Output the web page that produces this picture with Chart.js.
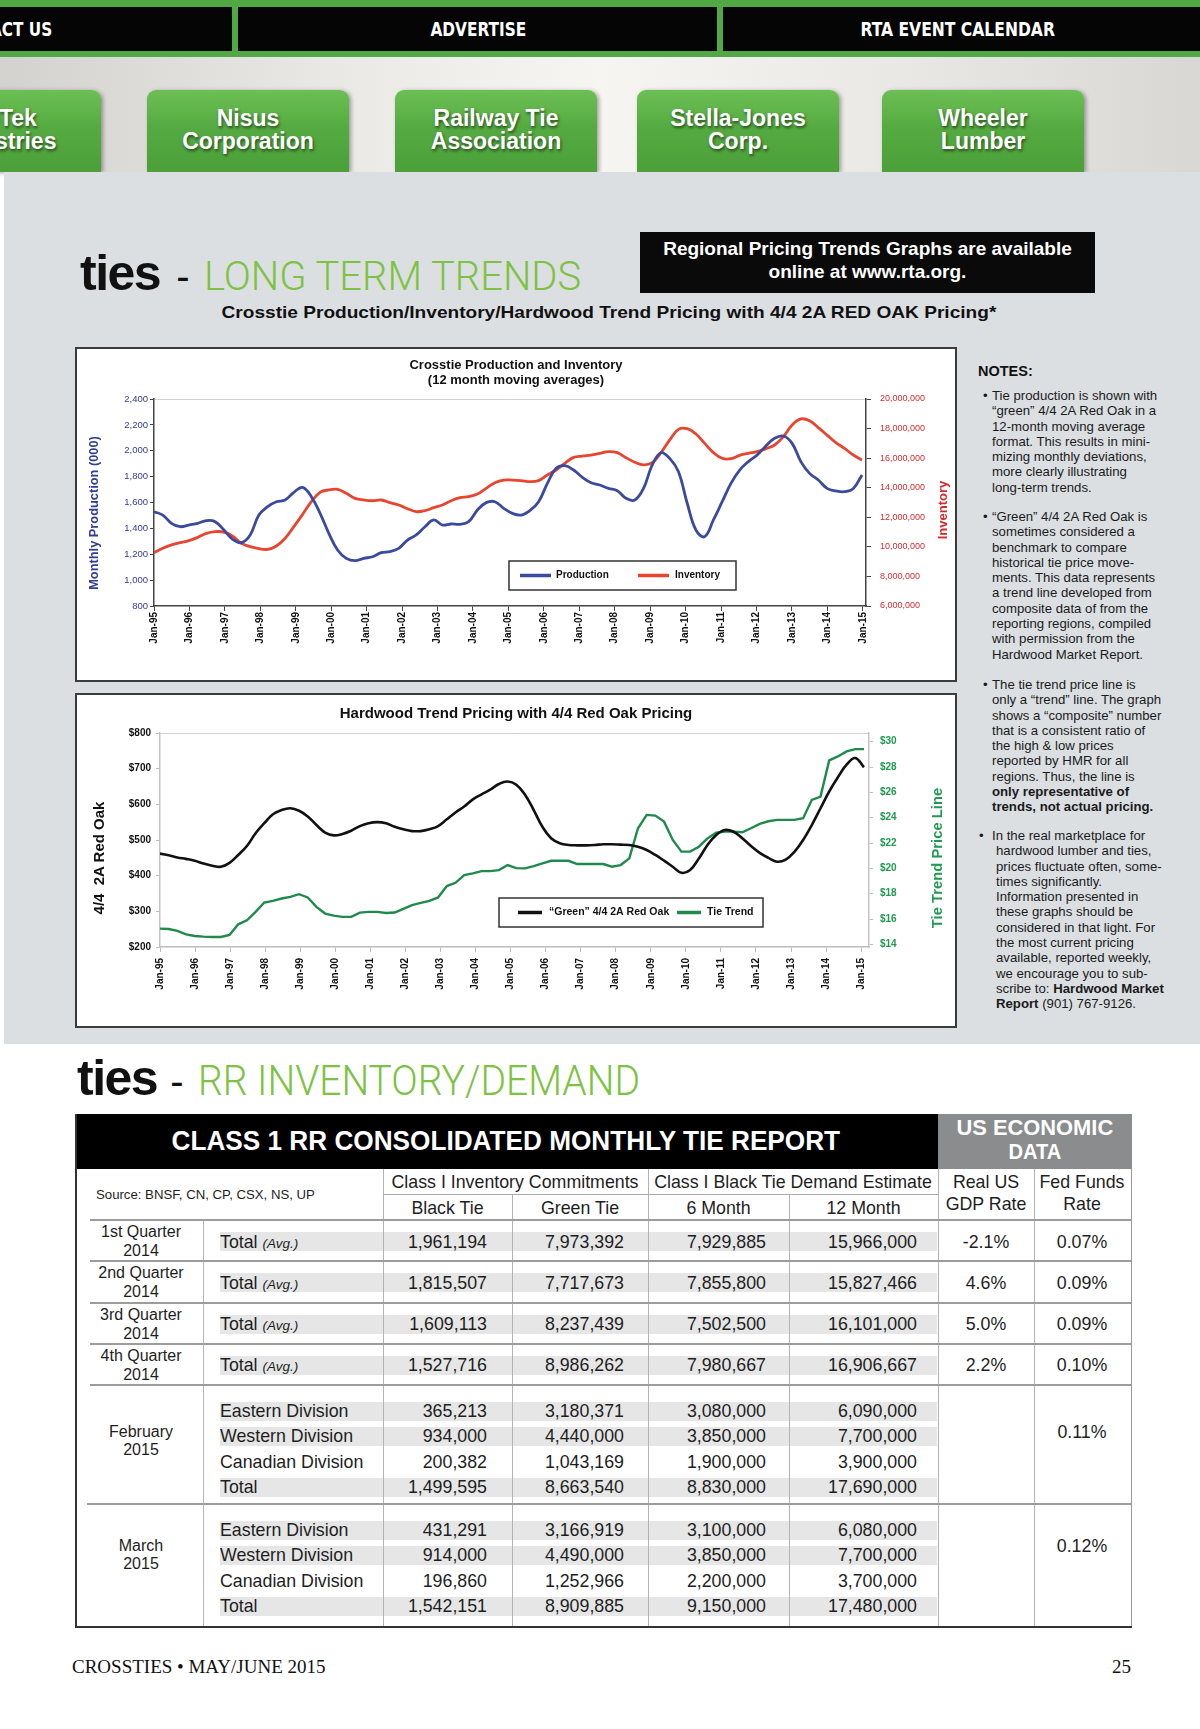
<!DOCTYPE html>
<html>
<head>
<meta charset="utf-8">
<script src="https://cdn.jsdelivr.net/npm/chart.js@4.4.1/dist/chart.umd.min.js"></script>
<style>
  html, body { margin: 0; padding: 0; background: #fff; }
  #page { position: relative; width: 1200px; height: 1729px; overflow: hidden;
          font-family: 'Liberation Sans', Arial, Helvetica, sans-serif; color: #1a1a1a; }
  .abs { position: absolute; }
  .fit  { display: inline-block; transform-origin: center center; }
  .fitL { display: inline-block; transform-origin: left center; }
  .fitR { display: inline-block; transform-origin: right center; }
  .navtxt { position: absolute; top: 7px; height: 44px; line-height: 44px; color: #fff; white-space: nowrap;
            font-family: 'DejaVu Sans Condensed', 'DejaVu Sans', sans-serif; font-weight: bold; font-size: 19px; }
  .btn { position: absolute; top: 90px; height: 82px; width: 202px; box-sizing: border-box; padding-top: 17px;
         border-radius: 9px 9px 0 0; background: linear-gradient(#6cbf55, #55ab41 45%, #4c9f39);
         box-shadow: 2px 1px 4px rgba(0,0,0,.35); color: #fff; font-weight: bold; font-size: 23px;
         line-height: 23px; text-align: center; text-shadow: 1px 2px 3px rgba(0,0,0,.55); white-space: nowrap; }
  .head { position: absolute; font-size: 50px; line-height: 48px; white-space: nowrap; color: #111; }
  .head .ties { font-weight: bold; letter-spacing: -1.5px; }
  .head .dash { font-size: 40px; }
  .head .green { font-family: Roboto, 'Liberation Sans', sans-serif; font-weight: 300; color: #7dc242; }
  .cbox { position: absolute; width: 882px; height: 335px; background: #fff; }
  .cbox::after { content: ''; position: absolute; inset: 0; border: 2px solid #3c3c3c; pointer-events: none; }
  .cbox canvas { display: block; }
  .vt { position: absolute; transform: translate(-50%, -50%) rotate(-90deg); white-space: pre; font-weight: bold; }
  .note { position: absolute; left: 992px; font-size: 13.2px; line-height: 15.3px; white-space: nowrap; color: #1a1a1a; }
  .note::before { content: '\2022'; position: absolute; left: -9px; top: 0; }
</style>
</head>
<body>
<div id="page">
  <!-- top navigation -->
  <div class="abs" style="left:0;top:0;width:1200px;height:57px;background:#52a845"></div>
  <div class="abs" style="left:-20px;top:7px;width:252px;height:44px;background:#050505"></div>
  <div class="abs" style="left:238px;top:7px;width:479px;height:44px;background:#050505"></div>
  <div class="abs" style="left:723px;top:7px;width:500px;height:44px;background:#050505"></div>
  <div class="navtxt" style="right:1148px;text-align:right"><span class="fitR" data-w="108">CONTACT US</span></div>
  <div class="navtxt" style="left:178px;width:600px;text-align:center"><span class="fit" data-w="96">ADVERTISE</span></div>
  <div class="navtxt" style="left:658px;width:600px;text-align:center"><span class="fit" data-w="194">RTA EVENT CALENDAR</span></div>

  <div class="abs" style="left:0;top:57px;width:1200px;height:115px;background:linear-gradient(90deg,#d3d2cf 0%,#eceae7 30%,#f6f5f2 50%,#e9e8e5 75%,#d8d7d4 100%)"></div>
  <div class="btn" style="left:-98px;width:199px">TieTek<br>Industries</div>
  <div class="btn" style="left:147px">Nisus<br>Corporation</div>
  <div class="btn" style="left:395px">Railway Tie<br>Association</div>
  <div class="btn" style="left:637px">Stella-Jones<br>Corp.</div>
  <div class="btn" style="left:882px">Wheeler<br>Lumber</div>

  <!-- gray panel -->
  <div class="abs" style="left:4px;top:172px;width:1196px;height:872px;background:#dcdfe2"></div>

  <div class="head" style="left:80px;top:249px"><span class="ties">ties</span><span class="dash" style="margin-left:16px;margin-right:14px">-</span><span class="green fitL" data-w="377" style="font-size:41px">LONG TERM TRENDS</span></div>

  <div class="abs" style="left:640px;top:232px;width:455px;height:61px;background:#0a0a0a;color:#fff;font-weight:bold;font-size:19px;line-height:23px;text-align:center;box-sizing:border-box;padding-top:5px">Regional Pricing Trends Graphs are available<br>online at www.rta.org.</div>

  <div class="abs" style="left:109px;width:1000px;top:301px;line-height:24px;text-align:center;font-weight:bold;font-size:17px;color:#111"><span class="fit" data-w="775">Crosstie Production/Inventory/Hardwood Trend Pricing with 4/4 2A RED OAK Pricing*</span></div>

  <!-- chart boxes -->
  <div class="cbox" style="left:75px;top:347px"><canvas id="c1" width="882" height="335"></canvas></div>
  <div class="cbox" style="left:75px;top:693px"><canvas id="c2" width="882" height="335"></canvas></div>

  <div class="vt" style="left:93px;top:513px;color:#2f3d95;font-size:12.8px">Monthly Production (000)</div>
  <div class="vt" style="left:942px;top:510px;color:#d52b2e;font-size:13px">Inventory</div>
  <div class="vt" style="left:98px;top:858px;color:#111;font-size:15px">4/4  2A Red Oak</div>
  <div class="vt" style="left:937px;top:858px;color:#1f9a50;font-size:14.8px">Tie Trend Price Line</div>

  <!-- notes -->
  <div class="abs" style="left:978px;top:362px;font-weight:bold;font-size:14.5px;line-height:18px;color:#111">NOTES:</div>
  <div class="note" style="top:388px">Tie production is shown with<br>“green” 4/4 2A Red Oak in a<br>12-month moving average<br>format. This results in mini-<br>mizing monthly deviations,<br>more clearly illustrating<br>long-term trends.</div>
  <div class="note" style="top:509px">“Green” 4/4 2A Red Oak is<br>sometimes considered a<br>benchmark to compare<br>historical tie price move-<br>ments. This data represents<br>a trend line developed from<br>composite data of from the<br>reporting regions, compiled<br>with permission from the<br>Hardwood Market Report.</div>
  <div class="note" style="top:677px">The tie trend price line is<br>only a “trend” line. The graph<br>shows a “composite” number<br>that is a consistent ratio of<br>the high &amp; low prices<br>reported by HMR for all<br>regions. Thus, the line is<br><b>only representative of<br>trends, not actual pricing.</b></div>
  <div class="note" style="top:828px;padding-left:4px;text-indent:-4px">In the real marketplace for<br>hardwood lumber and ties,<br>prices fluctuate often, some-<br>times significantly.<br>Information presented in<br>these graphs should be<br>considered in that light. For<br>the most current pricing<br>available, reported weekly,<br>we encourage you to sub-<br>scribe to: <b>Hardwood Market<br>Report</b> (901) 767-9126.</div>

  <!-- second section -->
  <div class="head" style="left:77px;top:1054px"><span class="ties">ties</span><span class="dash" style="margin-left:13px;margin-right:14px">-</span><span class="green fitL" data-w="442" style="font-size:42px">RR INVENTORY/DEMAND</span></div>

  <div id="tbl"></div>

  <div class="abs" style="left:72px;top:1655px;line-height:24px;font-family:'Liberation Serif','Times New Roman',serif;font-size:19px;color:#111">CROSSTIES • MAY/JUNE 2015</div>
  <div class="abs" style="right:69px;top:1655px;line-height:24px;font-family:'Liberation Serif','Times New Roman',serif;font-size:19px;color:#111">25</div>
</div>

<script>
// ---------- chart data (readings taken every few months, Jan-95 .. early 2015) ----------
const yearLabels = ['Jan-95','Jan-96','Jan-97','Jan-98','Jan-99','Jan-00','Jan-01','Jan-02','Jan-03','Jan-04','Jan-05',
  'Jan-06','Jan-07','Jan-08','Jan-09','Jan-10','Jan-11','Jan-12','Jan-13','Jan-14','Jan-15'];

// months between consecutive readings
const step1 = 2.96;
const step2 = 2.975;

// Monthly production (000), 12 month moving average
const production = [1529,1503,1439,1413,1426,1439,1460,1452,1387,1315,1290,1349,1503,1568,1606,1619,1679,1717,1645,1516,
  1362,1233,1168,1150,1168,1181,1212,1220,1246,1310,1349,1413,1465,1426,1434,1431,1452,1542,1599,1606,1555,
  1516,1503,1537,1606,1748,1864,1885,1851,1795,1753,1735,1709,1691,1632,1619,1709,1890,1985,1941,1838,
  1594,1387,1336,1465,1606,1748,1851,1916,1967,2037,2096,2114,2057,1916,1825,1774,1709,1689,1684,1709,1813];

// Inventory, millions of ties
const inventory = [9.61,9.90,10.13,10.28,10.42,10.64,10.91,11.03,11.00,10.73,10.24,10.01,9.88,9.83,10.06,10.58,11.37,12.20,13.06,13.69,
  13.85,13.89,13.62,13.28,13.17,13.12,13.17,12.99,12.83,12.58,12.38,12.45,12.65,12.83,13.12,13.33,13.39,13.57,13.96,14.34,14.52,
  14.52,14.48,14.41,14.48,14.86,15.20,15.65,16.05,16.14,16.21,16.33,16.44,16.37,16.03,15.72,15.54,15.69,16.37,17.23,17.95,
  17.99,17.63,17.00,16.37,15.99,15.96,16.19,16.33,16.44,16.64,16.89,17.45,18.24,18.65,18.53,18.06,17.56,17.05,16.66,16.21,15.87];

// "Green" 4/4 2A Red Oak ($)
const redOak = [462,457,451,447,442,434,428,425,436,458,483,519,547,572,584,589,582,566,542,521,
  513,517,526,539,547,550,547,537,530,525,525,530,539,558,577,594,614,628,641,657,664,
  655,627,584,537,505,491,486,485,485,486,488,488,487,486,481,472,458,442,425,408,
  416,448,486,514,528,523,505,483,464,450,439,445,467,500,542,589,636,676,711,730,704];

// Tie trend price line ($)
const tieTrend = [15.24,15.21,15.06,14.79,14.66,14.61,14.58,14.58,14.74,15.58,15.90,16.56,17.30,17.43,17.62,17.75,17.96,17.70,16.96,16.43,
  16.27,16.17,16.17,16.51,16.56,16.56,16.48,16.51,16.80,17.09,17.28,17.43,17.70,18.60,18.86,19.47,19.60,19.78,19.78,19.86,20.26,
  20.02,20.00,20.18,20.39,20.60,20.60,20.60,20.34,20.34,20.34,20.34,20.13,20.26,20.79,23.17,24.22,24.17,23.69,22.24,21.32,
  21.32,21.71,22.37,22.82,22.90,22.90,22.85,23.17,23.51,23.72,23.83,23.83,23.83,23.96,25.41,25.67,28.53,28.84,29.24,29.42,29.42];

const tieTicks = [14,16,18,20,22,24,26,28,30];

// ---------- table data ----------
const quarterRows = [
  ['1st Quarter','2014','1,961,194','7,973,392','7,929,885','15,966,000','-2.1%','0.07%'],
  ['2nd Quarter','2014','1,815,507','7,717,673','7,855,800','15,827,466','4.6%','0.09%'],
  ['3rd Quarter','2014','1,609,113','8,237,439','7,502,500','16,101,000','5.0%','0.09%'],
  ['4th Quarter','2014','1,527,716','8,986,262','7,980,667','16,906,667','2.2%','0.10%']
];
const febRows = [
  ['Eastern Division','365,213','3,180,371','3,080,000','6,090,000'],
  ['Western Division','934,000','4,440,000','3,850,000','7,700,000'],
  ['Canadian Division','200,382','1,043,169','1,900,000','3,900,000'],
  ['Total','1,499,595','8,663,540','8,830,000','17,690,000']
];
const marRows = [
  ['Eastern Division','431,291','3,166,919','3,100,000','6,080,000'],
  ['Western Division','914,000','4,490,000','3,850,000','7,700,000'],
  ['Canadian Division','196,860','1,252,966','2,200,000','3,700,000'],
  ['Total','1,542,151','8,909,885','9,150,000','17,480,000']
];
const monthShade = [true, true, false, true];

// ---------- charts ----------
Chart.defaults.font.family = "'Liberation Sans', Arial, Helvetica, sans-serif";

const pts = (arr, step) => arr.map((v, i) => ({ x: i * step, y: v }));

// legend drawn as a framed box inside the plot
const boxLegend = {
  id: 'boxLegend',
  afterDatasetsDraw(chart, args, o) {
    if (!o.box) return;
    const ctx = chart.ctx;
    const [x, y, w, h] = o.box;
    const cy = y + h / 2;
    ctx.save();
    ctx.fillStyle = '#fff';
    ctx.fillRect(x, y, w, h);
    ctx.lineWidth = 1.5;
    ctx.strokeStyle = '#333';
    ctx.strokeRect(x, y, w, h);
    ctx.font = `bold ${o.size}px 'Liberation Sans', Arial, sans-serif`;
    ctx.textBaseline = 'middle';
    chart.data.datasets.forEach((ds, i) => {
      const it = o.items[i];
      ctx.strokeStyle = ds.borderColor;
      ctx.lineWidth = 3.5;
      ctx.beginPath();
      ctx.moveTo(it[0], cy);
      ctx.lineTo(it[0] + it[1], cy);
      ctx.stroke();
      ctx.fillStyle = '#111';
      ctx.fillText(ds.label, it[2], cy);
    });
    ctx.restore();
  }
};

function xAxis(max, height, color, pad) {
  return {
    type: 'linear', min: 0, max,
    afterBuildTicks: s => { s.ticks = yearLabels.map((_, i) => ({ value: i * 12 })); },
    afterFit: s => { s.height = height; },
    ticks: { autoSkip: false, minRotation: 90, maxRotation: 90, padding: pad, color: '#111',
             font: { size: 10, weight: 'bold' }, callback: (v, i) => yearLabels[i] },
    grid: { drawOnChartArea: false, color, tickLength: 5 },
    border: { color, width: 1.5 }
  };
}

new Chart(document.getElementById('c1'), {
  type: 'line',
  data: {
    datasets: [
      { label: 'Production', data: pts(production, step1), yAxisID: 'y', borderColor: '#3a4a9e',
        borderWidth: 2.8, pointRadius: 0, tension: 0.4 },
      { label: 'Inventory', data: pts(inventory, step1), yAxisID: 'y2', borderColor: '#e8442e',
        borderWidth: 2.8, pointRadius: 0, tension: 0.4 }
    ]
  },
  options: {
    responsive: false, animation: false,
    layout: { padding: 0 },
    plugins: {
      legend: { display: false }, tooltip: { enabled: false },
      title: { display: true, text: ['Crosstie Production and Inventory', '(12 month moving averages)'],
               color: '#111', font: { size: 13, weight: 'bold', lineHeight: 15 / 13 }, padding: { top: 10.5, bottom: 11.5 } },
      boxLegend: { box: [434, 214, 227, 29], size: 10, items: [[445, 31, 481], [563, 31, 600]] }
    },
    scales: {
      x: xAxis(241.1, 76, '#444', 1),
      y: { position: 'left', min: 800, max: 2400,
           afterFit: s => { s.width = 79; },
           ticks: { stepSize: 200, padding: 2, color: '#2f3d95', font: { size: 9.5 }, callback: v => v.toLocaleString('en-US') },
           grid: { color: c => (c.tick && c.tick.value === 2400) ? '#d2d2d2' : 'rgba(0,0,0,0)', tickColor: '#444', tickLength: 4 },
           border: { color: '#444', width: 1.5 } },
      y2: { position: 'right', min: 6, max: 20,
            afterFit: s => { s.width = 91; },
            ticks: { stepSize: 2, padding: 9, color: '#d52b2e', font: { size: 9 }, callback: v => (v * 1e6).toLocaleString('en-US') },
            grid: { drawOnChartArea: false, color: '#444', tickLength: 5 },
            border: { color: '#444', width: 1.5 } }
    }
  },
  plugins: [boxLegend]
});

new Chart(document.getElementById('c2'), {
  type: 'line',
  data: {
    datasets: [
      { label: '“Green” 4/4 2A Red Oak', data: pts(redOak, step2), yAxisID: 'y', borderColor: '#111',
        borderWidth: 2.6, pointRadius: 0, tension: 0.4 },
      { label: 'Tie Trend', data: pts(tieTrend, step2), yAxisID: 'y2', borderColor: '#1f8a4c',
        borderWidth: 2.4, pointRadius: 0, tension: 0 }
    ]
  },
  options: {
    responsive: false, animation: false,
    layout: { padding: 0 },
    plugins: {
      legend: { display: false }, tooltip: { enabled: false },
      title: { display: true, text: 'Hardwood Trend Pricing with 4/4 Red Oak Pricing', color: '#111',
               font: { size: 15, weight: 'bold', lineHeight: 1 }, padding: { top: 13.5, bottom: 11.5 } },
      boxLegend: { box: [424, 205, 264, 29], size: 10.5, items: [[443, 24, 474], [602, 24, 632]] }
    },
    scales: {
      x: xAxis(242.7, 81, '#bdbdbd', 6),
      y: { position: 'left', min: 200, max: 800,
           afterFit: s => { s.width = 85; },
           ticks: { stepSize: 100, padding: 5, color: '#111', font: { size: 10, weight: 'bold' }, callback: v => '$' + v },
           grid: { color: c => (c.tick && c.tick.value === 800) ? '#d2d2d2' : 'rgba(0,0,0,0)', tickColor: '#bdbdbd', tickLength: 4 },
           border: { color: '#c4c4c4', width: 1.5 } },
      y2: { position: 'right', min: 13.79, max: 30.69,
            afterFit: s => { s.width = 88; },
            afterBuildTicks: s => { s.ticks = tieTicks.map(v => ({ value: v })); },
            ticks: { padding: 7, color: '#1f9a50', font: { size: 10, weight: 'bold' }, callback: v => '$' + v },
            grid: { drawOnChartArea: false, color: '#bdbdbd', tickLength: 4 },
            border: { color: '#c4c4c4', width: 1.5 } }
    }
  },
  plugins: [boxLegend]
});

// ---------- table ----------
const T = document.getElementById('tbl');
const numRight = [487, 624, 766, 917];

function el(css, html) {
  const d = document.createElement('div');
  d.className = 'abs';
  d.style.cssText += css;
  if (html !== undefined) d.innerHTML = html;
  T.appendChild(d);
  return d;
}
function rect(x, y, w, h, bg) { return el(`left:${x}px;top:${y}px;width:${w}px;height:${h}px;background:${bg}`); }
function hline(x1, x2, y, c, t) { return rect(x1, y - t / 2, x2 - x1, t, c); }
function vline(x, y1, y2, c, t) { return rect(x - t / 2, y1, t, y2 - y1, c); }
function txt(x, yc, s, align, css) {
  const pos = align === 'right' ? `right:${1200 - x}px` :
              align === 'center' ? `left:${x - 600}px;width:1200px;text-align:center` : `left:${x}px`;
  return el(`${pos};top:${yc - 12}px;height:24px;line-height:24px;white-space:nowrap;font-size:17.8px;color:#1e1e1e;${css || ''}`, s);
}

// header
rect(75, 1114, 863, 55, '#000');
rect(938, 1114, 194, 55, '#8a8c8e');
txt(506, 1141, '<span class="fit" data-w="669">CLASS 1 RR CONSOLIDATED MONTHLY TIE REPORT</span>', 'center',
    'color:#fff;font-weight:bold;font-size:27px;height:30px;line-height:30px;top:1126px');
txt(1035, 1128, '<span class="fit" data-w="157">US ECONOMIC</span>', 'center', 'color:#fff;font-weight:bold;font-size:22px');
txt(1035, 1152, '<span class="fit" data-w="53">DATA</span>', 'center', 'color:#fff;font-weight:bold;font-size:22px');

txt(96, 1195, 'Source: BNSF, CN, CP, CSX, NS, UP', 'left', 'font-size:13.2px');
txt(515, 1182, 'Class I Inventory Commitments', 'center');
txt(793, 1182, 'Class I Black Tie Demand Estimate', 'center');
txt(447.5, 1208, 'Black Tie', 'center');
txt(580, 1208, 'Green Tie', 'center');
txt(718.5, 1208, '6 Month', 'center');
txt(863.5, 1208, '12 Month', 'center');
txt(986, 1182, 'Real US', 'center');
txt(986, 1204, 'GDP Rate', 'center');
txt(1082, 1182, 'Fed Funds', 'center');
txt(1082, 1204, 'Rate', 'center');

// quarterly rows
quarterRows.forEach((r, i) => {
  const top = 1220 + i * 41.25, yc = top + 21.5;
  rect(220, yc - 9.5, 717, 19, '#e6e6e6');
  txt(141, top + 12, r[0], 'center', 'font-size:16px');
  txt(141, top + 31, r[1], 'center', 'font-size:16px');
  txt(220, yc, 'Total <i style="font-size:13.5px">(Avg.)</i>');
  r.slice(2, 6).forEach((v, j) => txt(numRight[j], yc, v, 'right'));
  txt(986, yc, r[6], 'center');
  txt(1082, yc, r[7], 'center');
});

// monthly blocks
[[febRows, 'February', 1385, 47, '0.11%'], [marRows, 'March', 1504, 42, '0.12%']].forEach(([rows, name, top, ly, fed]) => {
  rows.forEach((r, j) => {
    const yc = top + 26 + j * 25.4;
    if (monthShade[j]) rect(220, yc - 9.5, 717, 19, '#e6e6e6');
    txt(220, yc, r[0]);
    r.slice(1).forEach((v, k) => txt(numRight[k], yc, v, 'right'));
  });
  txt(141, top + ly, name, 'center', 'font-size:16px');
  txt(141, top + ly + 18, '2015', 'center', 'font-size:16px');
  txt(1082, top + ly, fed, 'center');
});

// rules
[[203, 1220], [383, 1169], [648, 1169], [938, 1169], [1034, 1169], [512, 1194], [789, 1194]]
  .forEach(([x, y]) => vline(x, y, 1627, '#b3b3b3', 1));
hline(383, 938, 1194, '#aaa', 1);
[1220, 1261, 1303, 1344, 1385].forEach(y => hline(90, 1131, y, '#9c9c9c', 2));
hline(87, 1131, 1504, '#9c9c9c', 2);
vline(76, 1114, 1628, '#333', 2);
vline(1131, 1169, 1627, '#999', 1);
hline(75, 1132, 1627, '#333', 2);

// squeeze condensed headings to their measured widths
function fitAll() {
  document.querySelectorAll('[data-w]').forEach(e => {
    e.style.transform = 'none';
    const w = e.offsetWidth;
    if (w) e.style.transform = `scaleX(${(+e.dataset.w / w).toFixed(4)})`;
  });
}
fitAll();
if (document.fonts && document.fonts.ready) document.fonts.ready.then(fitAll);
</script>
</body>
</html>
